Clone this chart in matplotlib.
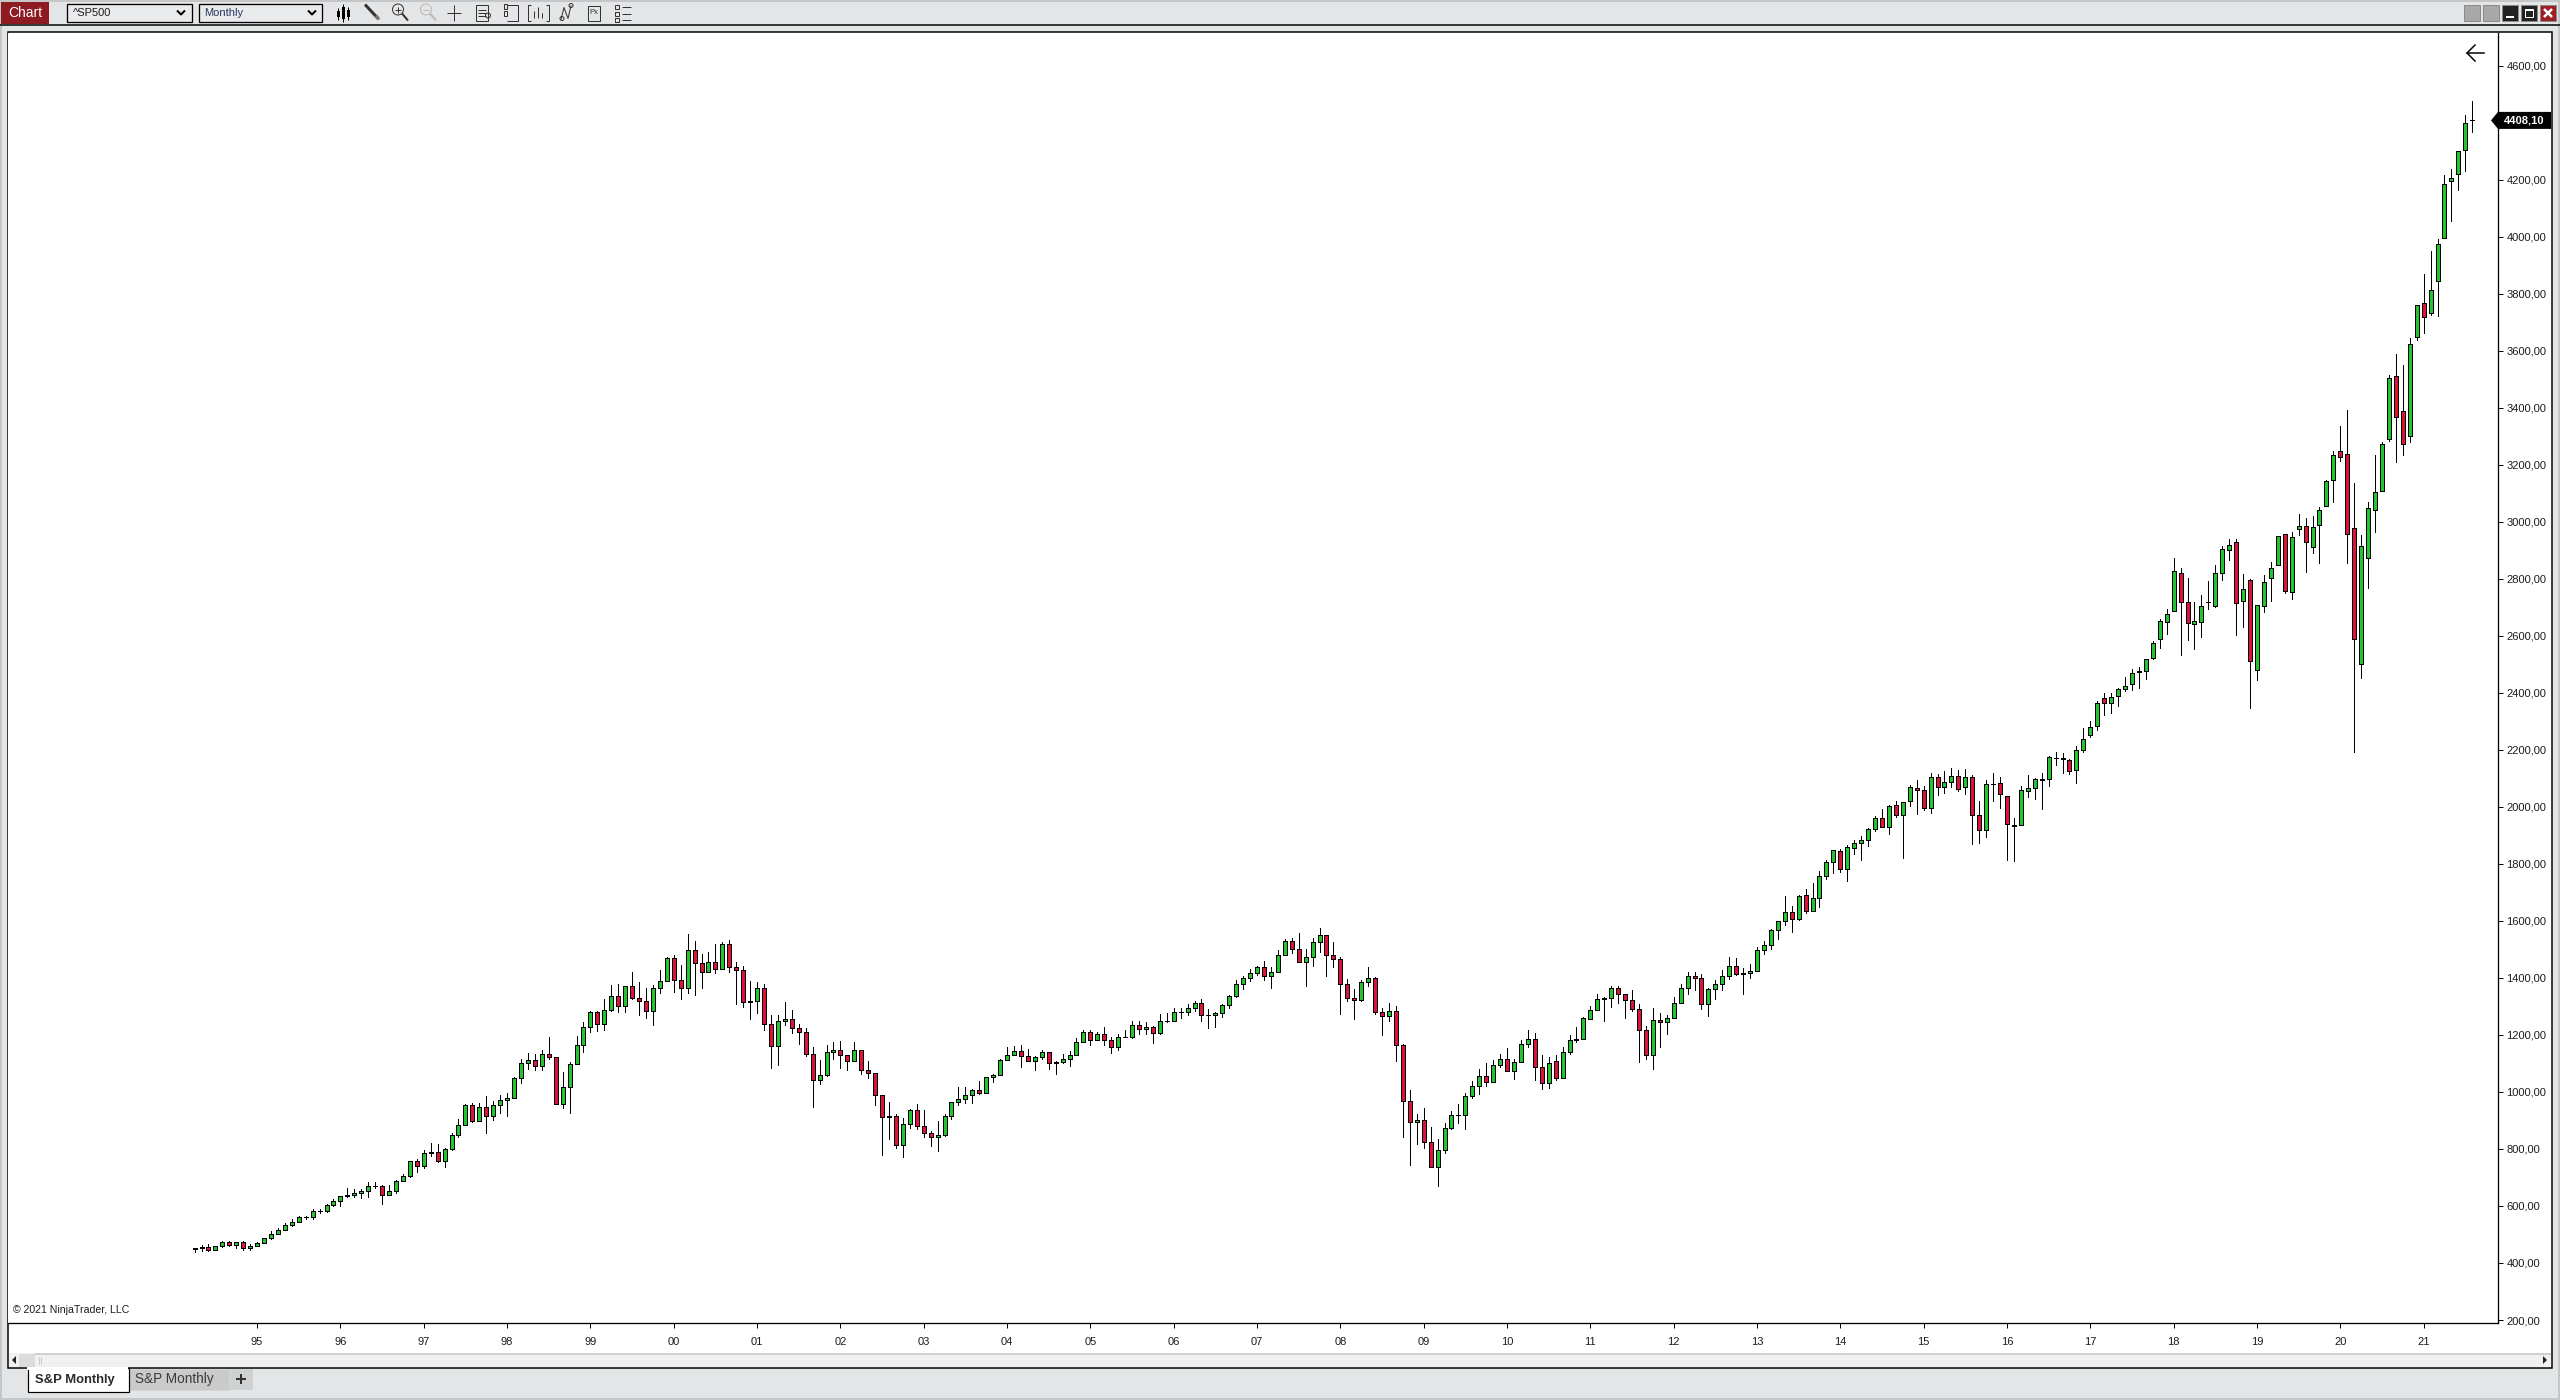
import matplotlib
matplotlib.use("Agg")
import matplotlib.pyplot as plt
from matplotlib.patches import Rectangle, Circle, Polygon

plt.rcParams['font.family'] = ['Liberation Sans', 'DejaVu Sans']

# monthly S&P 500 candles, Apr 1994 .. Aug 2021
opens = [
    450, 451, 456, 444, 458, 475, 463, 472, 454,
    459, 470, 487, 501, 515, 533, 545, 562, 562, 584, 581, 605,
    616, 636, 640, 645, 654, 669, 671, 640, 652, 687, 705, 757,
    741, 786, 791, 757, 801, 848, 885, 954, 899, 947, 914, 955,
    970, 980, 1049, 1101, 1112, 1091, 1134, 1121, 957, 1017, 1099, 1164,
    1229, 1280, 1238, 1286, 1335, 1302, 1373, 1329, 1320, 1283, 1363, 1389,
    1469, 1394, 1366, 1499, 1452, 1421, 1455, 1431, 1518, 1437, 1429, 1315,
    1320, 1366, 1240, 1160, 1249, 1256, 1224, 1212, 1134, 1041, 1060, 1139,
    1148, 1130, 1107, 1147, 1077, 1067, 990, 912, 916, 815, 886, 936,
    880, 856, 841, 848, 917, 964, 975, 990, 1008, 996, 1051, 1058,
    1112, 1131, 1145, 1126, 1107, 1121, 1141, 1102, 1104, 1115, 1130, 1174,
    1212, 1181, 1204, 1181, 1157, 1192, 1191, 1234, 1220, 1229, 1207, 1249,
    1248, 1280, 1281, 1295, 1311, 1270, 1270, 1277, 1304, 1336, 1378, 1401,
    1418, 1438, 1407, 1421, 1482, 1531, 1503, 1455, 1474, 1527, 1549, 1481,
    1468, 1379, 1331, 1323, 1386, 1400, 1280, 1267, 1283, 1164, 969, 896,
    903, 826, 735, 798, 873, 919, 919, 987, 1021, 1057, 1036, 1096,
    1115, 1074, 1104, 1169, 1187, 1087, 1031, 1108, 1049, 1141, 1185, 1187,
    1257, 1289, 1328, 1329, 1365, 1345, 1321, 1292, 1219, 1131, 1252, 1247,
    1258, 1312, 1366, 1408, 1398, 1310, 1362, 1379, 1407, 1441, 1412, 1416,
    1426, 1498, 1515, 1569, 1598, 1631, 1606, 1690, 1636, 1682, 1758, 1806,
    1846, 1782, 1857, 1873, 1884, 1924, 1961, 1930, 2005, 1972, 2019, 2066,
    2059, 1997, 2105, 2068, 2086, 2107, 2068, 2104, 1971, 1920, 2080, 2082,
    2038, 1937, 1937, 2057, 2067, 2094, 2099, 2171, 2171, 2164, 2129, 2201,
    2251, 2285, 2381, 2363, 2388, 2415, 2432, 2477, 2475, 2523, 2588, 2647,
    2686, 2819, 2718, 2640, 2647, 2720, 2704, 2822, 2900, 2928, 2721, 2795,
    2479, 2703, 2802, 2850, 2956, 2752, 2974, 2984, 2911, 2988, 3054, 3145,
    3247, 3237, 2977, 2500, 2872, 3040, 3107, 3289, 3510, 3387, 3300, 3647,
    3766, 3731, 3843, 3994, 4194, 4219, 4303, 4408,
]
closes = [
    451, 457, 444, 458, 475, 463, 472, 454, 459,
    470, 487, 501, 515, 533, 545, 562, 562, 584, 581, 605, 616,
    636, 640, 645, 654, 669, 671, 640, 652, 687, 705, 757, 741,
    786, 791, 757, 801, 848, 885, 954, 899, 947, 914, 955, 970,
    980, 1049, 1101, 1112, 1091, 1134, 1121, 957, 1017, 1099, 1164, 1229,
    1280, 1238, 1286, 1335, 1302, 1373, 1329, 1320, 1283, 1363, 1389, 1469,
    1394, 1366, 1499, 1452, 1421, 1455, 1431, 1518, 1437, 1429, 1315, 1320,
    1366, 1240, 1160, 1249, 1256, 1224, 1211, 1134, 1041, 1060, 1139, 1148,
    1130, 1107, 1147, 1077, 1067, 990, 912, 916, 815, 886, 936, 880,
    856, 841, 848, 917, 964, 975, 990, 1008, 996, 1051, 1058, 1112,
    1131, 1145, 1126, 1107, 1121, 1141, 1102, 1104, 1115, 1130, 1174, 1212,
    1181, 1204, 1181, 1157, 1192, 1191, 1234, 1220, 1229, 1207, 1249, 1248,
    1280, 1281, 1295, 1311, 1270, 1270, 1277, 1304, 1336, 1378, 1401, 1418,
    1438, 1407, 1421, 1482, 1531, 1503, 1455, 1474, 1527, 1549, 1481, 1468,
    1379, 1331, 1323, 1386, 1400, 1280, 1267, 1283, 1166, 969, 896, 903,
    826, 735, 798, 873, 919, 919, 987, 1021, 1057, 1036, 1096, 1115,
    1074, 1104, 1169, 1187, 1089, 1031, 1102, 1049, 1141, 1183, 1181, 1258,
    1286, 1327, 1326, 1364, 1345, 1321, 1292, 1219, 1131, 1253, 1247, 1258,
    1312, 1366, 1408, 1398, 1310, 1362, 1379, 1407, 1441, 1412, 1416, 1426,
    1498, 1515, 1569, 1598, 1631, 1606, 1686, 1633, 1682, 1757, 1806, 1848,
    1783, 1859, 1872, 1884, 1924, 1960, 1931, 2003, 1972, 2018, 2068, 2059,
    1995, 2105, 2068, 2086, 2107, 2063, 2104, 1972, 1920, 2079, 2080, 2044,
    1940, 1932, 2060, 2065, 2097, 2099, 2174, 2171, 2168, 2126, 2199, 2239,
    2279, 2364, 2363, 2384, 2412, 2423, 2470, 2472, 2519, 2575, 2651, 2675,
    2826, 2718, 2644, 2651, 2706, 2718, 2819, 2903, 2917, 2714, 2763, 2511,
    2707, 2788, 2837, 2949, 2756, 2946, 2984, 2928, 2981, 3040, 3142, 3233,
    3226, 2956, 2588, 2914, 3047, 3103, 3272, 3503, 3366, 3272, 3622, 3759,
    3717, 3812, 3973, 4184, 4205, 4300, 4398, 4408.1,
]
highs = [
    454, 462, 465, 459, 477, 476, 475, 476, 465,
    475, 489, 512, 521, 539, 553, 566, 564, 589, 590, 608, 625,
    636, 664, 658, 658, 683, 683, 673, 673, 691, 713, 758, 765,
    795, 821, 817, 804, 855, 905, 957, 960, 960, 986, 968, 988,
    995, 1051, 1114, 1137, 1133, 1146, 1193, 1121, 1069, 1104, 1196, 1245,
    1283, 1283, 1326, 1375, 1378, 1373, 1421, 1386, 1365, 1375, 1428, 1473,
    1479, 1445, 1554, 1528, 1484, 1490, 1519, 1525, 1533, 1455, 1441, 1389,
    1385, 1378, 1270, 1270, 1316, 1287, 1240, 1226, 1157, 1112, 1163, 1176,
    1177, 1131, 1176, 1147, 1109, 1067, 990, 965, 924, 907, 941, 957,
    935, 864, 898, 922, 965, 1016, 1016, 1011, 1040, 1051, 1063, 1115,
    1158, 1160, 1164, 1150, 1127, 1146, 1141, 1110, 1132, 1144, 1188, 1217,
    1217, 1212, 1229, 1192, 1202, 1219, 1248, 1248, 1244, 1233, 1272, 1276,
    1295, 1294, 1310, 1318, 1326, 1290, 1281, 1307, 1340, 1392, 1407, 1432,
    1441, 1461, 1438, 1498, 1535, 1541, 1556, 1503, 1539, 1576, 1550, 1525,
    1472, 1396, 1360, 1393, 1440, 1404, 1293, 1313, 1303, 1167, 1007, 921,
    944, 876, 835, 890, 932, 957, 997, 1040, 1080, 1101, 1113, 1132,
    1153, 1114, 1181, 1219, 1206, 1131, 1123, 1130, 1157, 1200, 1228, 1262,
    1303, 1344, 1332, 1371, 1371, 1345, 1357, 1307, 1230, 1293, 1278, 1269,
    1333, 1378, 1419, 1422, 1415, 1363, 1391, 1427, 1474, 1471, 1434, 1448,
    1510, 1530, 1573, 1598, 1687, 1654, 1690, 1711, 1732, 1775, 1814, 1849,
    1851, 1867, 1884, 1897, 1925, 1968, 1991, 2006, 2019, 2018, 2075, 2093,
    2072, 2120, 2117, 2125, 2135, 2130, 2132, 2112, 2020, 2093, 2118, 2104,
    2038, 1962, 2073, 2112, 2103, 2120, 2177, 2193, 2188, 2169, 2214, 2277,
    2301, 2371, 2401, 2398, 2418, 2454, 2484, 2490, 2520, 2582, 2658, 2693,
    2872, 2837, 2802, 2717, 2742, 2791, 2848, 2916, 2939, 2939, 2816, 2800,
    2708, 2813, 2859, 2950, 2956, 2964, 3026, 3012, 3020, 3051, 3147, 3247,
    3335, 3392, 3135, 2954, 3068, 3233, 3279, 3514, 3587, 3549, 3644, 3760,
    3869, 3949, 3991, 4216, 4236, 4300, 4426, 4476,
]
lows = [
    439, 442, 443, 445, 457, 460, 453, 446, 446,
    459, 470, 484, 505, 516, 530, 545, 554, 555, 576, 578, 600,
    601, 632, 632, 629, 630, 662, 608, 639, 646, 689, 701, 720,
    734, 777, 755, 738, 798, 843, 884, 896, 899, 857, 903, 927,
    917, 980, 1033, 1082, 1078, 1078, 1117, 957, 945, 927, 1099, 1141,
    1209, 1215, 1218, 1285, 1281, 1281, 1325, 1270, 1261, 1235, 1348, 1389,
    1352, 1327, 1348, 1341, 1366, 1421, 1418, 1430, 1422, 1310, 1299, 1257,
    1278, 1218, 1085, 1094, 1236, 1208, 1169, 1127, 948, 1029, 1057, 1117,
    1085, 1078, 1107, 1063, 1048, 955, 780, 836, 802, 773, 875, 870,
    843, 812, 794, 847, 906, 955, 962, 960, 994, 996, 1036, 1058,
    1111, 1128, 1088, 1107, 1078, 1116, 1082, 1064, 1102, 1092, 1130, 1174,
    1166, 1181, 1166, 1138, 1146, 1191, 1188, 1204, 1205, 1173, 1205, 1246,
    1248, 1258, 1271, 1284, 1250, 1223, 1229, 1264, 1296, 1332, 1362, 1390,
    1409, 1394, 1366, 1421, 1480, 1488, 1455, 1373, 1443, 1492, 1406, 1440,
    1275, 1320, 1257, 1319, 1373, 1272, 1200, 1248, 1110, 843, 745, 819,
    805, 735, 671, 787, 871, 892, 871, 978, 994, 1022, 1034, 1089,
    1072, 1046, 1104, 1157, 1043, 1011, 1015, 1043, 1049, 1134, 1176, 1186,
    1262, 1294, 1249, 1299, 1313, 1259, 1285, 1106, 1117, 1079, 1158, 1204,
    1258, 1312, 1345, 1358, 1291, 1267, 1325, 1359, 1396, 1409, 1343, 1398,
    1426, 1485, 1501, 1536, 1584, 1561, 1604, 1629, 1633, 1650, 1746, 1769,
    1771, 1741, 1834, 1814, 1864, 1915, 1931, 1905, 1965, 1821, 2004, 1976,
    1990, 1980, 2043, 2050, 2068, 2056, 2044, 1871, 1874, 1896, 2022, 1997,
    1815, 1811, 1937, 2036, 2029, 1994, 2074, 2148, 2120, 2115, 2085, 2191,
    2245, 2271, 2322, 2328, 2355, 2408, 2411, 2418, 2450, 2520, 2558, 2608,
    2686, 2534, 2586, 2555, 2597, 2695, 2700, 2797, 2867, 2604, 2632, 2348,
    2444, 2685, 2723, 2850, 2751, 2730, 2955, 2825, 2892, 2857, 3054, 3071,
    3214, 2857, 2194, 2451, 2769, 2965, 3107, 3283, 3211, 3235, 3281, 3636,
    3664, 3726, 3723, 3994, 4056, 4165, 4232, 4368,
]
year_labels = ['95', '96', '97', '98', '99', '00', '01', '02', '03', '04', '05', '06', '07',
               '08', '09', '10', '11', '12', '13', '14', '15', '16', '17', '18', '19', '20', '21']
price_ticks = [200, 400, 600, 800, 1000, 1200, 1400, 1600, 1800, 2000, 2200, 2400,
               2600, 2800, 3000, 3200, 3400, 3600, 3800, 4000, 4200, 4400, 4600]
last_price = 4408.10

PX = 0.72  # one pixel in points at dpi 100
GREEN = '#22c52d'
RED = '#dc143c'
WINDOW = '#e4e5e7'
TXT = '#1c1c1c'

fig = plt.figure(figsize=(25.6, 14), dpi=100, facecolor=WINDOW)

# whole window in pixel coordinates, for the chrome
bg = fig.add_axes([0, 0, 1, 1])
bg.set_xlim(0, 2560)
bg.set_ylim(1400, 0)
bg.axis('off')
chrome = bg


def box(x0, y0, x1, y1, fc, ec='none', lw=1):
    bg.add_patch(Rectangle((x0, y0), x1 - x0, y1 - y0, fc=fc, ec=ec, lw=lw * PX))


def line(xs, ys, c='black', lw=1):
    bg.plot(xs, ys, color=c, lw=lw * PX, solid_capstyle='butt')


# window edges
box(0, 0, 2560, 2, '#c4c6c8')
box(0, 1398, 2560, 1400, '#c4c6c8')
box(0, 0, 2, 1400, '#c4c6c8')
box(2558, 0, 2560, 1400, '#c4c6c8')
line([0, 2560], [24.5, 24.5], lw=1.5)
box(7.5, 32, 2552, 1368, 'white', 'black', 1.5)

# toolbar
box(1, 2, 49, 24, '#8e1a22')
bg.text(25, 13, 'Chart', color='white', fontsize=10, ha='center', va='center', stretch='condensed')
box(67, 4, 192, 22, '#e9eaec', 'black', 1.3)
box(199, 4, 322, 22, '#e9eaec', 'black', 1.3)
bg.text(73, 12.5, '^SP500', color=TXT, fontsize=8, va='center')
bg.text(204, 12.5, 'Monthly', color='#2a3560', fontsize=8, va='center')
for cx in (181, 312):
    line([cx - 4, cx, cx + 4], [10.5, 14.5, 10.5], lw=2)

# toolbar icons sit a little higher, on their own overlay
icons = fig.add_axes([0, 0, 1, 1])
icons.set_xlim(0, 2560)
icons.set_ylim(1402.5, 2.5)
icons.axis('off')
icons.patch.set_alpha(0)
bg = icons
for cx, top, bot in ((338, 10, 22), (343, 6, 24), (348, 9, 22)):
    line([cx, cx], [top, bot])
    box(cx - 1.5, top + 3, cx + 1.5, bot - 3, 'black')
line([365, 378], [7, 21], c='#333333', lw=3)
line([376, 379], [18, 22], c='#777777', lw=3)
for cx, c in ((398, '#333333'), (426, '#b8b8b8')):
    bg.add_patch(Circle((cx, 12), 5.5, fc='none', ec=c, lw=PX))
    line([cx + 4, cx + 10], [16, 23], c=c, lw=2)
    line([cx - 3, cx + 3], [12, 12], c=c)
line([398, 398], [9, 15], c='#333333')
line([447, 461], [15, 15], c='#333333')
line([454, 454], [7, 23], c='#333333')
bg.add_patch(Rectangle((476, 7), 12, 16, fc='none', ec='#333333', lw=PX))
for yy in (12, 15, 18):
    line([478, 486], [yy, yy], c='#333333')
bg.add_patch(Circle((488, 18), 2.5, fc='none', ec='#333333', lw=PX))
bg.add_patch(Rectangle((504, 6), 3, 5, fc='none', ec='#333333', lw=PX))
bg.add_patch(Rectangle((504, 13), 3, 5, fc='none', ec='#333333', lw=PX))
line([507, 518, 518, 507], [7, 7, 23, 23], c='#333333')
line([531, 528, 528, 531], [7, 7, 23, 23], c='#333333')
line([546, 549, 549, 546], [7, 7, 23, 23], c='#333333')
line([534, 534], [13, 20], c='#333333')
line([538, 538], [9, 20], c='#333333')
line([542, 542], [15, 20], c='#333333')
line([561, 564, 568, 571], [22, 10, 21, 8], c='#333333')
bg.add_patch(Circle((562, 21), 2, fc='none', ec='#333333', lw=PX))
bg.add_patch(Circle((571, 8), 2, fc='none', ec='#333333', lw=PX))
bg.add_patch(Rectangle((588, 8), 12, 15, fc='none', ec='#333333', lw=PX))
bg.text(594, 15.5, 'Px', fontsize=5.5, color='#333333', ha='center', va='center')
for yy in (9, 16, 22):
    bg.add_patch(Rectangle((615, yy - 2), 4, 4, fc='none', ec='#333333', lw=PX))
    line([622, 631], [yy, yy], c='#333333')
bg = chrome

# window buttons
for x0, fc in ((2464, '#a9a7a7'), (2483, '#a9a7a7'), (2502, '#222222'), (2521, '#222222'), (2540, '#a11d24')):
    box(x0, 5, x0 + 16, 21, fc, '#8a8a8a', 1)
line([2506, 2514], [16.5, 16.5], c='white', lw=2)
bg.add_patch(Rectangle((2525, 9), 8, 8, fc='none', ec='white', lw=PX))
line([2525, 2533], [10, 10], c='white', lw=2)
line([2544, 2552], [9, 17], c='white', lw=2.5)
line([2544, 2552], [17, 9], c='white', lw=2.5)

# scrollbar
box(9, 1353, 2551, 1367, '#f0f0f0')
box(19, 1354, 35, 1367, '#dcdcdc')
line([35, 2551], [1353.5, 1353.5], c='#c4c6c8', lw=1.5)
line([39, 39], [1357, 1364], c='#c8c8c8')
line([41, 41], [1357, 1364], c='#c8c8c8')
bg.add_patch(Polygon([[16, 1356], [16, 1364], [12, 1360]], fc='#222222', ec='none'))
bg.add_patch(Polygon([[2543, 1356], [2543, 1364], [2547, 1360]], fc='#222222', ec='none'))

# tabs
box(128, 1369, 229, 1390, '#c9cacb', '#d4d4d4', 1)
box(230, 1369, 253, 1390, '#d0d1d2')
box(27.5, 1368, 128.5, 1392, 'white', 'black', 1.2)
box(27, 1367, 128, 1369.5, 'white')
bg.text(35, 1379.5, 'S&P Monthly', fontsize=9.4, fontweight='bold', color='#2a2a2a', va='center')
bg.text(135, 1379.5, 'S&P Monthly', fontsize=9.8, color='#3a3a3a', va='center')
line([236, 246], [1379, 1379], c='#333333', lw=2)
line([241, 241], [1374, 1384], c='#333333', lw=2)

# chart panel: pixel box 8..2498 x 33..1323
L, R, T, B = 8, 2498, 33, 1323
ax = fig.add_axes([L / 2560, 1 - B / 1400, (R - L) / 2560, (B - T) / 1400])
X0, DX = 194.6, 6.944
Y200, DY = 1320.0, 3.5079
ax.set_xlim((L - X0) / DX, (R - X0) / DX)
ax.set_ylim(200 + (Y200 - B) * DY, 200 + (Y200 - T) * DY)
ax.set_facecolor('white')
for side in ('top', 'left'):
    ax.spines[side].set_visible(False)
for side in ('right', 'bottom'):
    ax.spines[side].set_linewidth(1.3 * PX)

idx = list(range(len(opens)))
body_bottom = [min(o, c) for o, c in zip(opens, closes)]
body_height = [abs(c - o) for o, c in zip(opens, closes)]
colors = [GREEN if c > o else RED if c < o else 'black' for o, c in zip(opens, closes)]
ax.vlines(idx, lows, highs, color='black', lw=PX, antialiased=False, zorder=2)
ax.bar(idx, body_height, bottom=body_bottom, width=4 / DX, color=colors, edgecolor='black',
       linewidth=PX, antialiased=False, zorder=3)

# axes ticks
ax.yaxis.tick_right()
ax.set_yticks(price_ticks)
ax.set_yticklabels(['%d,00' % p for p in price_ticks], fontsize=8, color=TXT)
ax.set_xticks([9 + 12 * i for i in range(len(year_labels))])
ax.set_xticklabels(year_labels, fontsize=8, color=TXT)
ax.tick_params(axis='y', length=4.5 * PX, width=PX, pad=4 * PX)
ax.tick_params(axis='x', length=5 * PX, width=PX, pad=9 * PX)

ax.text(13, 1310, '\u00a9 2021 NinjaTrader, LLC', fontsize=7.6, color=TXT, va='center',
        transform=chrome.transData)

# back arrow top right
icons.set_zorder(0)
chrome.set_zorder(0)
ax.set_zorder(1)
ax.plot([2467, 2484], [53, 53], color='black', lw=1.5 * PX, transform=chrome.transData)
ax.plot([2475, 2467, 2475], [45, 53, 61], color='black', lw=1.5 * PX, transform=chrome.transData)

# last price tag
tag_y = Y200 - (last_price - 200) / DY
ax.add_patch(Polygon([[2491, tag_y], [2498, tag_y - 8.5], [2551, tag_y - 8.5], [2551, tag_y + 8.5], [2498, tag_y + 8.5]],
                     fc='black', ec='none', transform=chrome.transData, clip_on=False, zorder=5))
ax.text(2524, tag_y, '4408,10', color='white', fontsize=8, fontweight='bold', ha='center', va='center',
        transform=chrome.transData, zorder=6)

fig.savefig('out.png', dpi=100, facecolor=WINDOW)
